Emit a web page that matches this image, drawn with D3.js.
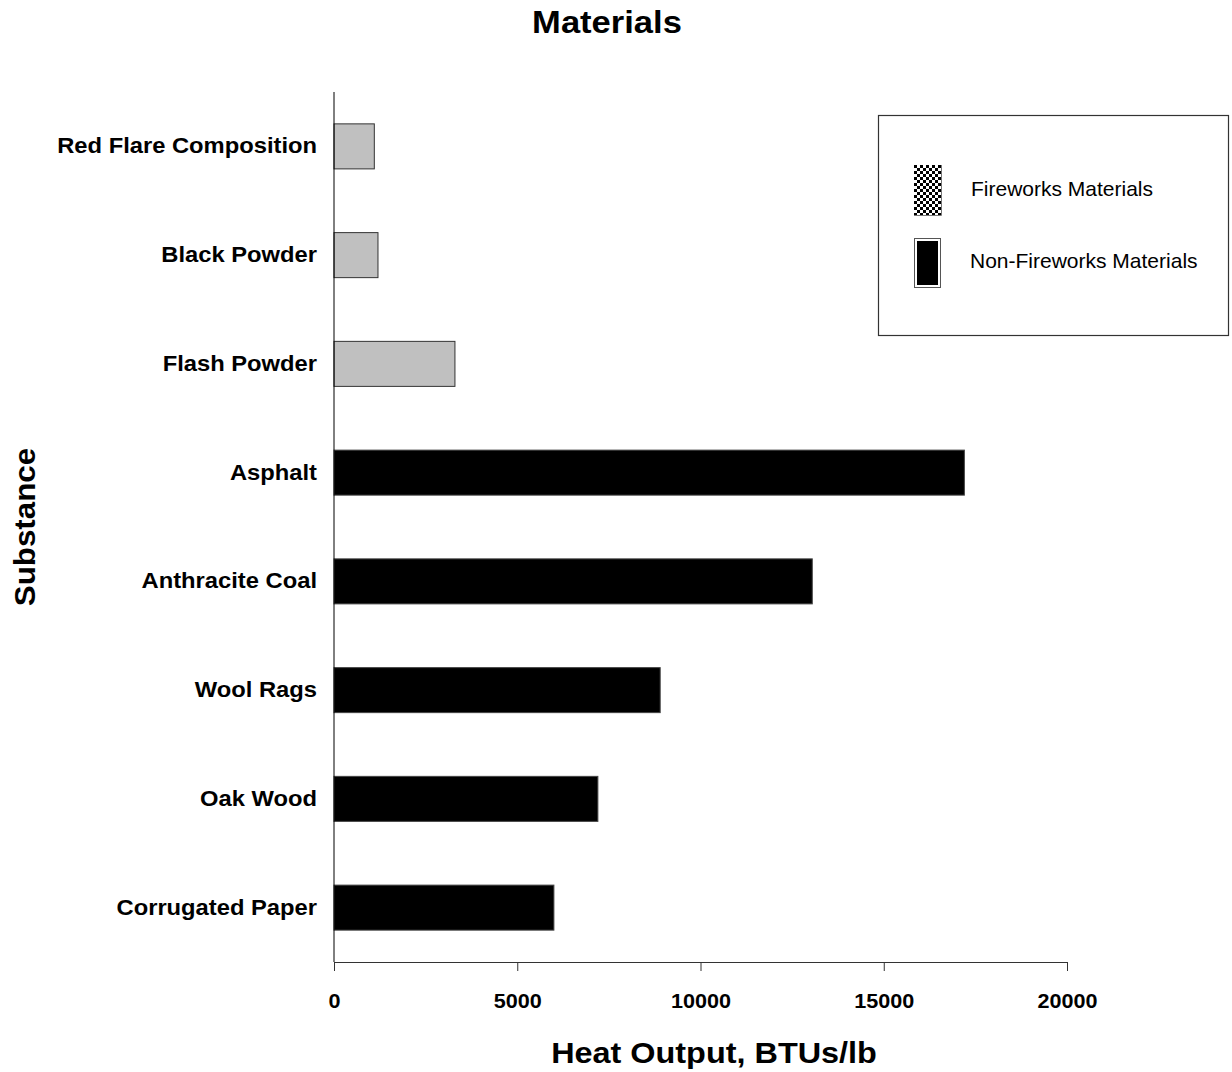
<!DOCTYPE html>
<html>
<head>
<meta charset="utf-8">
<script src="https://cdn.jsdelivr.net/npm/d3@7"></script>
<style>
  html, body { margin: 0; padding: 0; background: #fff; }
  svg { display: block; font-family: "Liberation Sans", Arial, sans-serif; }
</style>
</head>
<body>
<svg id="chart" width="1232" height="1072"></svg>
<script>
// Heat output per pound of substance (BTUs/lb)
const substances = [
  "Red Flare Composition", "Black Powder ", "Flash Powder", "Asphalt",
  "Anthracite Coal", "Wool Rags", "Oak Wood", "Corrugated Paper"
];
const heatOutput = [1100, 1200, 3300, 17200, 13050, 8900, 7200, 6000];
const groups = ["Fireworks", "Fireworks", "Fireworks", "Non-Fireworks",
  "Non-Fireworks", "Non-Fireworks", "Non-Fireworks", "Non-Fireworks"];
const xTicks = [0, 5000, 10000, 15000, 20000];
const legendLabels = ["Fireworks Materials", "Non-Fireworks Materials"];

const data = substances.map((name, i) => ({ name, value: heatOutput[i], group: groups[i] }));

const svg = d3.select("#chart");
const plot = { left: 334, right: 1067, top: 92, bottom: 962 };
const WIDE = 1.08; // bold labels are set slightly wide

const x = d3.scaleLinear().domain([0, 20000]).range([plot.left, plot.right]);
const y = d3.scaleBand().domain(substances).range([plot.top, plot.bottom])
  .paddingInner(0.586).paddingOuter(0.293);

// checkerboard used by the fireworks legend swatch
const defs = svg.append("defs");
const pat = defs.append("pattern").attr("id", "checker")
  .attr("patternUnits", "userSpaceOnUse").attr("width", 6).attr("height", 6)
  .attr("x", 914).attr("y", 165);
pat.append("rect").attr("width", 6).attr("height", 6).attr("fill", "#fff");
pat.append("rect").attr("width", 3).attr("height", 3).attr("fill", "#000");
pat.append("rect").attr("x", 3).attr("y", 3).attr("width", 3).attr("height", 3).attr("fill", "#000");

// bold text placed at (cx, cy), widened horizontally
function wideText(cx, cy, size, txt, rotate) {
  return svg.append("text")
    .attr("transform", `translate(${cx},${cy})${rotate ? " rotate(-90)" : ""} scale(${WIDE},1)`)
    .attr("text-anchor", "middle")
    .attr("font-size", size).attr("font-weight", "bold").text(txt);
}

// Title
wideText(607, 33, 32, "Materials");

// Bars
svg.append("g").selectAll("rect").data(data).join("rect")
  .attr("x", x(0))
  .attr("y", d => y(d.name))
  .attr("width", d => x(d.value) - x(0))
  .attr("height", y.bandwidth())
  .attr("fill", d => d.group === "Fireworks" ? "#c0c0c0" : "#000")
  .attr("stroke", d => d.group === "Fireworks" ? "#333" : "#444")
  .attr("stroke-width", 1);

// X axis
const xAxis = svg.append("g").attr("transform", `translate(0,${plot.bottom})`)
  .call(d3.axisBottom(x).tickValues(xTicks).tickSize(9).tickPadding(23).tickFormat(d3.format("d")));
xAxis.select(".domain").attr("stroke", "#333");
xAxis.selectAll(".tick line").attr("stroke", "#333");
xAxis.selectAll("text").attr("font-size", 20).attr("font-weight", "bold")
  .attr("font-family", "Liberation Sans, Arial, sans-serif").attr("fill", "#000")
  .attr("transform", `scale(${WIDE},1)`);

// Y axis
const yAxis = svg.append("g").attr("transform", `translate(${plot.left},0)`)
  .call(d3.axisLeft(y).tickSize(0).tickPadding(17));
yAxis.select(".domain").attr("stroke", "#000").attr("d", `M0,${plot.top}V${plot.bottom}`);
yAxis.selectAll("text").attr("font-size", 22).attr("font-weight", "bold")
  .attr("font-family", "Liberation Sans, Arial, sans-serif").attr("fill", "#000")
  .attr("x", -17 / WIDE).attr("dy", "0.32em")
  .attr("transform", `scale(${WIDE},1)`);

// Axis titles
wideText(714, 1063, 30, "Heat Output, BTUs/lb");
wideText(35, 527, 29, "Substance", true);

// Legend
const legend = svg.append("g");
legend.append("rect").attr("x", 878.5).attr("y", 115.5).attr("width", 350).attr("height", 220)
  .attr("fill", "#fff").attr("stroke", "#333").attr("stroke-width", 1.2);
const swatchY = [165, 238];
legend.append("rect").attr("x", 914).attr("y", swatchY[0]).attr("width", 27).attr("height", 50)
  .attr("fill", "url(#checker)");
legend.append("path").attr("d", `M914,${swatchY[0] + 50.5}H941.5V${swatchY[0]}`)
  .attr("fill", "none").attr("stroke", "#777").attr("stroke-width", 1);
legend.append("rect").attr("x", 914.5).attr("y", swatchY[1] + 0.5).attr("width", 26).attr("height", 49)
  .attr("fill", "#fff").attr("stroke", "#555").attr("stroke-width", 1);
legend.append("rect").attr("x", 917).attr("y", swatchY[1] + 3).attr("width", 21).attr("height", 44)
  .attr("fill", "#000");
legend.selectAll("text.lab").data(legendLabels).join("text").attr("class", "lab")
  .attr("x", (d, i) => i === 0 ? 971 : 970)
  .attr("y", (d, i) => i === 0 ? 189 : 261)
  .attr("dy", "0.35em")
  .attr("font-size", 21).text(d => d);
</script>
</body>
</html>
